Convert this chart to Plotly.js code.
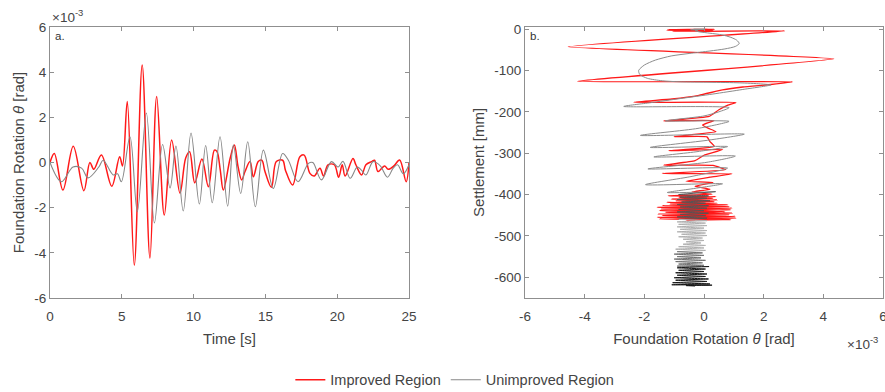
<!DOCTYPE html>
<html>
<head>
<meta charset="utf-8">
<script src="https://cdn.plot.ly/plotly-3.0.1.min.js"></script>
<style>
  html, body { margin: 0; padding: 0; background: #ffffff; }
  #chart { width: 885px; height: 392px; }
</style>
</head>
<body>
<div id="chart"></div>
<script>
// Foundation rotation time histories (rotation in units of 1e-3 rad)
const timeImp = [0, 0.3, 0.9, 1.62, 2.36, 2.78, 3.05, 3.58, 4.3, 4.85, 5.05, 5.38, 5.87, 6.42, 6.96, 7.43, 7.96, 8.47, 9.05, 9.45, 9.72, 10.08, 10.58, 11.03, 11.45, 11.62, 11.85, 12.07, 12.55, 12.84, 13.1, 13.35, 13.58, 13.93, 14.16, 14.5, 14.75, 14.97, 15.42, 15.76, 16.2, 16.4, 16.9, 17.4, 17.7, 18.1, 18.4, 18.8, 19.05, 19.36, 19.8, 20.1, 20.35, 20.55, 21.1, 21.3, 21.7, 22.0, 22.4, 22.6, 22.84, 23.3, 23.55, 23.95, 24.35, 24.8, 25.0];
const rotImp = [0, 0.4, -1.22, 0.72, -1.25, 0.0, -0.3, 0.33, -1.05, 0.26, -0.15, 2.7, -4.55, 4.32, -4.23, 2.92, -2.33, 1.0, -1.35, 0.2, 0.48, -0.9, 0.15, -1.07, 0.55, 0.5, -0.3, -1.22, 0.2, 0.77, -0.2, -0.77, -0.4, 0.04, -0.63, 0.04, 0.1, -0.4, -1.1, 0.04, 0.1, -0.35, -1.0, 0.26, 0.33, -0.48, -0.6, -0.26, -0.6, -0.1, -0.1, -0.65, -0.1, -0.6, 0.18, -0.1, -0.55, -0.1, 0.04, 0.1, -0.4, -0.15, -0.3, -0.15, 0.11, -0.85, 0.0];

const timeUnimp = [0, 0.8, 1.6, 2.2, 2.65, 3.4, 3.7, 4.4, 4.7, 4.97, 5.57, 6.08, 6.71, 7.27, 7.84, 8.36, 8.77, 9.28, 9.82, 10.4, 10.84, 11.3, 11.84, 12.37, 12.77, 13.28, 13.77, 14.3, 14.86, 15.55, 16.2, 16.6, 17.27, 18.0, 18.3, 18.9, 19.6, 20.06, 20.4, 20.9, 21.4, 21.7, 22.0, 22.5, 23.0, 23.5, 23.9, 24.2, 24.6, 25.0];
const rotUnimp = [0, -0.85, -0.2, -0.25, -0.68, -0.2, 0.1, -0.55, -0.5, -0.85, 1.14, -2.18, 2.19, -2.68, 0.8, -1.13, 0.73, -2.15, 1.3, -1.84, 0.75, -1.78, 1.14, -1.93, 0.77, -1.37, 0.92, -1.96, 0.55, -1.15, 0.4, 0.1, -0.85, -0.04, 0.0, -0.77, 0.04, -0.2, 0.05, -0.7, -0.2, -0.35, -0.55, 0.04, -0.15, -0.65, -0.25, -0.1, -0.5, -0.1];

// Rotation (1e-3 rad) against settlement (mm): [rotation, settlement]
const settlePathImp = [
  [0.0, 0], [0.35, -0.6], [-1.2, -1.4], [0.3, -2], [-1.25, -2.8], [0.0, -3.3], [-0.3, -3.8], [0.3, -4.3], [-1.05, -4.8], [0.26, -5.3], [-0.15, -5.6], [2.7, -4.5],
  [-4.55, -43], [4.35, -72], [-4.23, -126], [2.97, -127.5], [2.24, -134], [1.3, -140], [0.62, -147], [-0.17, -160], [-1.07, -169], [-2.36, -177],
  [1.07, -177.5], [0.8, -184], [0.5, -195], [0.17, -211], [-1.35, -222], [0.34, -221], [-0.05, -232], [0.15, -240], [0.4, -248], [-1.0, -260],
  [0.1, -260.5], [0.2, -272], [0.35, -284], [-1.18, -294], [0.62, -291], [0.0, -305], [-0.3, -318], [-1.35, -329], [0.3, -329.5], [0.73, -340],
  [-1.4, -349], [0.94, -350], [0.2, -358], [-0.6, -368], [0.3, -371], [-0.3, -380], [0.2, -387], [-0.4, -394], [0.27, -399],
  [-1.2, -403], [0.4, -405], [-0.85, -407], [0.3, -409], [-1.1, -411], [0.45, -413], [-0.95, -415], [0.35, -417], [-1.25, -419], [0.45, -421],
  [-1.15, -423], [0.8, -425], [-1.4, -427], [0.85, -429], [-1.57, -431], [0.94, -433], [-1.45, -435], [0.9, -437], [-1.5, -439], [0.7, -441],
  [-1.3, -443], [0.95, -445], [-1.55, -447], [0.85, -449], [-1.4, -451], [1.05, -453], [-1.57, -455], [1.07, -457], [-1.5, -459], [0.9, -460.5],
  [-0.6, -461.5], [-0.3, -462]
];

const settlePathUnimp = [
  [0.0, 0], [-0.35, -0.5], [0.0, -1], [-0.45, -1.5], [-0.2, -2.5], [-0.3, -4], [-0.17, -6.5], [0.2, -10], [0.6, -14], [0.9, -20], [1.1, -27],
  [1.18, -35], [1.05, -42], [0.7, -48], [0.2, -53], [-0.5, -59], [-1.1, -65], [-1.63, -75], [-2.0, -87], [-2.19, -100], [-2.15, -110],
  [-1.9, -119], [-1.4, -125], [-0.8, -127.5], [0.2, -128.5], [1.2, -130], [1.9, -132.5], [2.24, -135], [1.3, -146], [0.3, -157], [-0.8, -168],
  [-1.8, -178], [-2.69, -187], [0.84, -190], [0.5, -200], [0.0, -210], [-1.3, -222], [0.84, -223], [-0.2, -240], [-2.13, -257], [1.35, -254],
  [0.2, -268], [-1.8, -286], [0.79, -284], [-0.2, -296], [-1.68, -309], [1.05, -307], [0.1, -322], [-1.88, -338], [0.79, -336], [-0.4, -356],
  [-1.96, -376], [0.62, -374], [-0.3, -385], [-1.23, -395], [0.39, -393],
  [-0.85, -400], [0.15, -403], [-0.8, -406], [0.1, -409], [-0.9, -412], [0.2, -415], [-0.75, -418], [0.05, -421], [-0.9, -424], [0.15, -427],
  [-0.8, -430], [0.1, -433], [-0.85, -436], [0.0, -439], [-0.9, -442], [0.15, -445], [-0.8, -448], [0.05, -451], [-0.9, -454], [0.1, -457], [-0.85, -460],
  [0.1, -463], [-0.9, -466], [0.05, -469], [-0.85, -472], [0.1, -475], [-0.9, -478], [0.0, -481], [-0.8, -484], [0.1, -487], [-0.9, -490],
  [0.05, -493], [-0.75, -496], [0.1, -499], [-0.85, -502], [-0.05, -505], [-0.7, -508], [0.0, -511], [-0.6, -514], [-0.1, -517], [-0.7, -520],
  [0.05, -523], [-0.85, -526], [0.0, -529], [-0.95, -532], [0.05, -535], [-0.9, -538],
  [-0.05, -541], [-1.0, -544], [0.0, -547], [-0.9, -550], [-0.1, -553], [-1.0, -556], [0.05, -559], [-0.95, -562], [-0.05, -565], [-0.85, -568],
  [0.0, -571], [-0.9, -573], [0.17, -574],
  [-0.9, -577], [0.05, -580], [-0.85, -583], [0.0, -586], [-0.95, -589], [0.1, -592], [-0.9, -595], [0.05, -598], [-1.0, -601], [0.15, -604],
  [-0.95, -607], [0.1, -610], [-1.05, -613], [0.2, -616], [-1.08, -618], [0.27, -619], [-0.6, -620], [-0.3, -621]
];

// Tick values and labels
const timeTicks = [0, 5, 10, 15, 20, 25];
const rotTicks = [-6, -4, -2, 0, 2, 4, 6];
const rotTickLabels = ['-6', '-4', '-2', '0', '2', '4', '6'];
const settleTicks = [0, -100, -200, -300, -400, -500, -600];
const settleTickLabels = ['0', '-100', '-200', '-300', '-400', '-500', '-600'];

// Shading of the unimproved path: darker where the hysteresis loops pile up
const unimpBandLimits = [-397, -462, -540, -575, -Infinity];
const unimpBandColors = ['rgb(140,140,140)', 'rgb(85,85,85)', 'rgb(175,175,175)', 'rgb(110,110,110)', 'rgb(20,20,20)'];

const RED = 'rgb(255,25,25)';
const GREY = 'rgb(135,135,135)';
const AXIS = '#8f8f8f';

function splitBands(path, limits) {
  const bands = limits.map(() => ({ x: [], y: [] }));
  let prev = null, prevBand = -1;
  path.forEach(p => {
    const b = limits.findIndex(l => p[1] >= l);
    if (b !== prevBand && prev) { bands[b].x.push(prev[0]); bands[b].y.push(prev[1]); }
    bands[b].x.push(p[0]); bands[b].y.push(p[1]);
    prev = p; prevBand = b;
  });
  return bands;
}

const traces = [
  { x: timeImp, y: rotImp, type: 'scatter', mode: 'lines', name: 'Improved Region',
    line: { color: RED, width: 1.5, shape: 'spline', smoothing: 1 }, xaxis: 'x', yaxis: 'y' },
  { x: timeUnimp, y: rotUnimp, type: 'scatter', mode: 'lines', name: 'Unimproved Region',
    line: { color: GREY, width: 1.1, shape: 'spline', smoothing: 1 }, xaxis: 'x', yaxis: 'y' },
  { x: settlePathImp.map(p => p[0]), y: settlePathImp.map(p => p[1]), type: 'scatter', mode: 'lines',
    showlegend: false, line: { color: RED, width: 1.3, shape: 'spline', smoothing: 0.4 }, xaxis: 'x2', yaxis: 'y2' }
];
splitBands(settlePathUnimp, unimpBandLimits).forEach((b, i) => {
  traces.push({ x: b.x, y: b.y, type: 'scatter', mode: 'lines', showlegend: false,
    line: { color: unimpBandColors[i], width: 1, shape: 'spline', smoothing: i === 0 ? 0.7 : 0.3 },
    xaxis: 'x2', yaxis: 'y2' });
});

const baseAxis = {
  showgrid: false, zeroline: false, showline: true, linecolor: AXIS, linewidth: 1,
  mirror: 'ticks', ticks: 'inside', ticklen: 4, tickcolor: AXIS, tickwidth: 1, automargin: false,
  tickfont: { size: 13.5, color: '#444' }, fixedrange: true, ticklabeloverflow: 'allow'
};
const titleFont = { size: 15, color: '#444' };

const layout = {
  width: 885, height: 392,
  margin: { l: 50, r: 2, t: 27, b: 94, autoexpand: false },
  paper_bgcolor: '#ffffff', plot_bgcolor: '#ffffff',
  font: { family: '"Liberation Sans", Arial, sans-serif', size: 13, color: '#444' },
  showlegend: true,
  legend: { orientation: 'h', x: 0.486, xanchor: 'center', y: -0.302, yanchor: 'middle',
    font: { size: 14.5, color: '#444' }, bgcolor: 'rgba(0,0,0,0)', itemwidth: 30, tracegroupgap: 0 },
  xaxis: Object.assign({}, baseAxis, { domain: [0, 0.43097], range: [0, 25], tickvals: timeTicks,
    ticktext: timeTicks.map(String), anchor: 'y', ticklabelstandoff: 6,
    title: { text: 'Time [s]', font: titleFont, standoff: 10 } }),
  yaxis: Object.assign({}, baseAxis, { domain: [0, 1], range: [-6, 6], tickvals: rotTicks,
    ticktext: rotTickLabels, anchor: 'x',
    title: { text: 'Foundation Rotation <i>θ</i> [rad]', font: titleFont, standoff: 6 } }),
  xaxis2: Object.assign({}, baseAxis, { domain: [0.57023, 1], range: [-6, 6], tickvals: rotTicks,
    ticktext: rotTickLabels, anchor: 'y2', ticklabelstandoff: 6,
    title: { text: 'Foundation Rotation <i>θ</i> [rad]', font: titleFont, standoff: 10 } }),
  yaxis2: Object.assign({}, baseAxis, { domain: [0, 1], range: [-650, 5], tickvals: settleTicks,
    ticktext: settleTickLabels, anchor: 'x2',
    title: { text: 'Settlement [mm]', font: titleFont, standoff: 6 } }),
  annotations: [
    { text: '×10<sup>-3</sup>', xref: 'x domain', yref: 'y domain', x: 0, y: 1, xanchor: 'left', yanchor: 'bottom',
      showarrow: false, font: { size: 13.5, color: '#444' } },
    { text: '×10<sup>-3</sup>', xref: 'x2 domain', yref: 'y2 domain', x: 0.894, y: -0.165, xanchor: 'left', yanchor: 'middle',
      showarrow: false, font: { size: 13.5, color: '#444' } },
    { text: 'a.', xref: 'x domain', yref: 'y domain', x: 0.008, y: 0.995, xanchor: 'left', yanchor: 'top',
      showarrow: false, font: { size: 11.5, color: '#333' } },
    { text: 'b.', xref: 'x2 domain', yref: 'y2 domain', x: 0.008, y: 0.995, xanchor: 'left', yanchor: 'top',
      showarrow: false, font: { size: 11.5, color: '#333' } }
  ]
};

Plotly.newPlot('chart', traces, layout, { staticPlot: true, displayModeBar: false });
</script>
</body>
</html>
